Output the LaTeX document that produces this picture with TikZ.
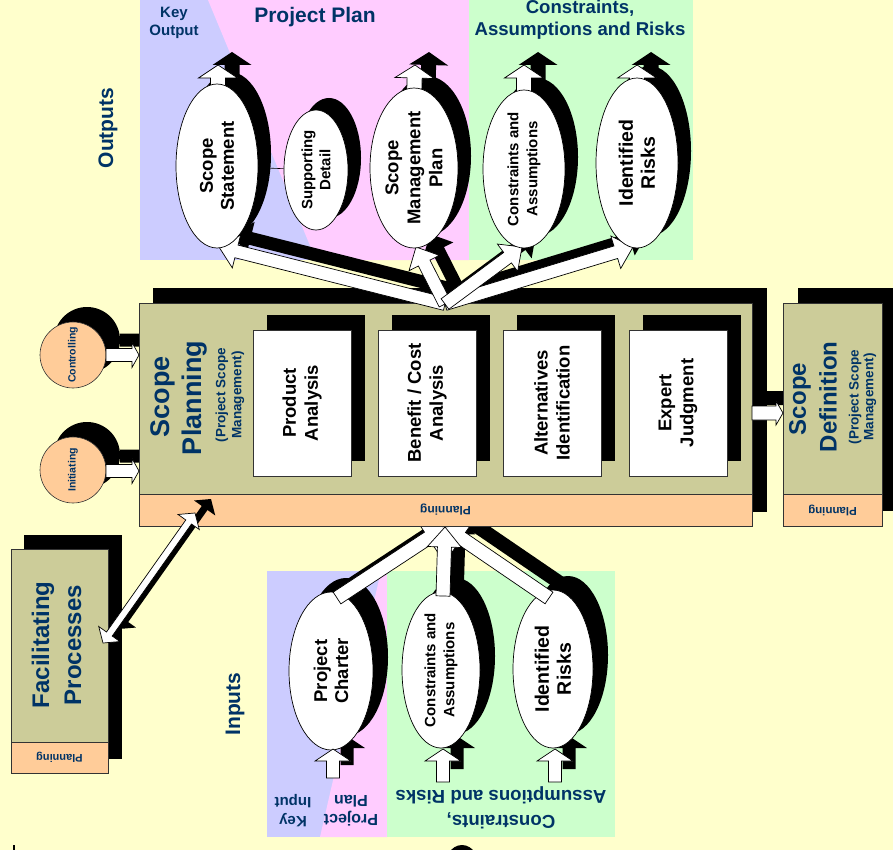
\documentclass[tikz,border=0pt]{standalone}
\usepackage{fontspec}
\setmainfont{Liberation Sans}
\usetikzlibrary{calc,shapes.geometric}
\definecolor{bgY}{HTML}{FFFFCC}
\definecolor{lav}{HTML}{CCCCFF}
\definecolor{pnk}{HTML}{FFCCFF}
\definecolor{grn}{HTML}{CCFFCC}
\definecolor{khaki}{HTML}{CCCC99}
\definecolor{peach}{HTML}{FFCC99}
\definecolor{navy}{HTML}{003366}
\definecolor{edge}{HTML}{333333}
\newcommand\myfs[2]{\fontsize{#1}{#2}\selectfont\bfseries}
% block arrow: style, tail, tip, half shaft, half head, head length
\newcommand\blockarr[6]{%
  \coordinate (bA) at (#2);
  \coordinate (bB) at (#3);
  \coordinate (bH) at ($(bB)!#6!(bA)$);
  \path[#1] ($(bA)!#4!90:(bB)$) -- ($(bH)!#4!90:(bB)$) -- ($(bH)!#5!90:(bB)$) -- (bB)
    -- ($(bH)!#5!-90:(bB)$) -- ($(bH)!#4!-90:(bB)$) -- ($(bA)!#4!-90:(bB)$) -- cycle;}
% double headed block arrow
\newcommand\dblockarr[6]{%
  \coordinate (bA) at (#2);
  \coordinate (bB) at (#3);
  \coordinate (bH) at ($(bA)!#6!(bB)$);
  \coordinate (bK) at ($(bB)!#6!(bA)$);
  \path[#1] (bA) -- ($(bH)!#5!90:(bB)$) -- ($(bH)!#4!90:(bB)$) -- ($(bK)!#4!-90:(bA)$)
    -- ($(bK)!#5!-90:(bA)$) -- (bB) -- ($(bK)!#5!90:(bA)$) -- ($(bK)!#4!90:(bA)$)
    -- ($(bH)!#4!-90:(bB)$) -- ($(bH)!#5!-90:(bB)$) -- cycle;}
\tikzset{
 shdw/.style={fill=black, draw=none},
 wht/.style={fill=white, draw=black, line width=0.7pt, line join=miter},
 ellw/.style={ellipse, draw=black, fill=white, line width=0.7pt, inner sep=0pt},
 ells/.style={ellipse, fill=black, draw=none, inner sep=0pt},
 boxk/.style={fill=khaki, draw=edge, line width=0.6pt, inner sep=0pt, outer sep=0pt, anchor=north west},
 boxp/.style={fill=peach, draw=edge, line width=0.6pt, inner sep=0pt, outer sep=0pt, anchor=north west},
 boxw/.style={fill=white, draw=edge, line width=0.6pt, inner sep=0pt, outer sep=0pt, anchor=north west, minimum width=98pt, minimum height=146pt},
 boxs/.style={fill=black, draw=none, inner sep=0pt, outer sep=0pt, anchor=north west, minimum width=98pt, minimum height=146pt},
 circp/.style={circle, fill=peach, draw=edge, line width=0.6pt, minimum size=66pt, inner sep=0pt},
 circs/.style={circle, fill=black, minimum size=66pt, inner sep=0pt},
 lbl/.style={text=navy, align=center, inner sep=0pt},
 txt/.style={text=black, align=center, inner sep=0pt},
}
\begin{document}
\begin{tikzpicture}[x=1pt,y=-1pt]
\useasboundingbox (0,0) rectangle (893,850);
\clip (0,0) rectangle (893,850);
\fill[bgY] (0,0) rectangle (893,850);
% ---------------- panels
\fill[lav] (140,0) rectangle (469,260);
\fill[pnk] (208,0) -- (469,0) -- (469,260) -- (316,260) -- cycle;
\fill[grn] (469,0) rectangle (693,260);
\fill[lav] (267,571) rectangle (387,837);
\fill[pnk] (381,571) -- (387,571) -- (387,837) -- (320,837) -- cycle;
\fill[grn] (387,571) rectangle (615,837);
% ---------------- panel labels
\node[lbl, font=\myfs{15}{18}] (keyout) at (174,23) {Key\\Output};
\node[lbl, font=\myfs{21}{25}] (pplan) at (315,17) {Project Plan};
\node[lbl, font=\myfs{18.6}{22}] (carT) at (580,20) {Constraints,\\Assumptions and Risks};
\node[lbl, font=\myfs{21}{25}, rotate=90] (outs) at (108,128) {Outputs};
\node[lbl, font=\myfs{21}{25}, rotate=90] (ins) at (235,704) {Inputs};
\node[lbl, font=\myfs{15}{19}, rotate=180] (keyin) at (293,811) {Key\\Input};
\node[lbl, font=\myfs{16}{19}, rotate=180] (pplanB) at (351,811) {Project\\Plan};
\node[lbl, font=\myfs{18.6}{25}, rotate=180] (carB) at (501,808) {Constraints,\\Assumptions and Risks};
% ---------------- coordinates
\coordinate (pcC) at (331,671);
\coordinate (bcaC) at (441,670);
\coordinate (birC) at (553,669);
\coordinate (hubB) at (445,527);
\coordinate (pcTail) at (337,598);
\coordinate (bcaTail) at (443,596);
\coordinate (birTail) at (549,598);
\coordinate (pcInA) at (333,778); \coordinate (pcInB) at (333,749);
\coordinate (bcaInA) at (443,782); \coordinate (bcaInB) at (443,749);
\coordinate (birInA) at (555,782); \coordinate (birInB) at (555,749);
\coordinate (ctrlC) at (73,355);
\coordinate (initC) at (73,470);
\coordinate (ctrlA) at (106,355); \coordinate (ctrlB) at (139,355);
\coordinate (initA) at (106,471); \coordinate (initB) at (139,471);
\coordinate (defA) at (752,413); \coordinate (defB) at (783,413);
\coordinate (facTip) at (103,643); \coordinate (spTip) at (195,513);
\coordinate (ssC) at (217,166);
\coordinate (sdC) at (316,170);
\coordinate (smpC) at (414,168);
\coordinate (tcaC) at (524,169);
\coordinate (tirC) at (637,163);
\coordinate (hubT) at (445,304);
\coordinate (ssTip) at (219,247);
\coordinate (smpTip) at (416,247);
\coordinate (tcaTip) at (522,247);
\coordinate (tirTip) at (633,247);
\coordinate (ssUpA) at (218,100); \coordinate (ssUpB) at (218,65);
\coordinate (smpUpA) at (414,100); \coordinate (smpUpB) at (415,65);
\coordinate (tcaUpA) at (524,100); \coordinate (tcaUpB) at (524,65);
\coordinate (tirUpA) at (637,100); \coordinate (tirUpB) at (637,65);
% ---------------- bottom inputs
\node[ells, minimum width=84pt, minimum height=158pt] at ($(pcC)+(15,-14)$) {};
\node[ells, minimum width=78pt, minimum height=156pt] at ($(bcaC)+(15,-14)$) {};
\node[ells, minimum width=80pt, minimum height=158pt] at ($(birC)+(15,-14)$) {};
\blockarr{shdw}{$(pcTail)+(14,-13)$}{$(hubB)+(14,-13)$}{7pt}{17pt}{20pt}
\blockarr{shdw}{$(birTail)+(14,-13)$}{$(hubB)+(14,-13)$}{7pt}{17pt}{20pt}
\blockarr{shdw}{$(bcaTail)+(14,-13)$}{$(hubB)+(14,-13)$}{7pt}{17pt}{20pt}
\blockarr{shdw}{$(pcInA)+(14,-13)$}{$(pcInB)+(14,-13)$}{6.5pt}{18pt}{12pt}
\blockarr{shdw}{$(bcaInA)+(14,-13)$}{$(bcaInB)+(14,-13)$}{6.5pt}{18pt}{12pt}
\blockarr{shdw}{$(birInA)+(14,-13)$}{$(birInB)+(14,-13)$}{6.5pt}{18pt}{12pt}
\node[ellw, minimum width=84pt, minimum height=158pt] (pc) at (pcC) {};
\node[ellw, minimum width=78pt, minimum height=156pt] (bca) at (bcaC) {};
\node[ellw, minimum width=80pt, minimum height=158pt] (bir) at (birC) {};
\blockarr{wht}{pcTail}{hubB}{7pt}{17pt}{20pt}
\blockarr{wht}{birTail}{hubB}{7pt}{17pt}{20pt}
\blockarr{wht}{bcaTail}{hubB}{7pt}{17pt}{20pt}
\blockarr{wht}{pcInA}{pcInB}{6.5pt}{18pt}{12pt}
\blockarr{wht}{bcaInA}{bcaInB}{6.5pt}{18pt}{12pt}
\blockarr{wht}{birInA}{birInB}{6.5pt}{18pt}{12pt}
\node[txt, rotate=90, font=\myfs{18.5}{21}] (pcT) at (pc) {Project\\Charter};
\node[txt, rotate=90, font=\myfs{15}{19}] (bcaT) at (bca) {Constraints and\\Assumptions};
\node[txt, rotate=90, font=\myfs{19.5}{22}] (birT) at (bir) {Identified\\Risks};
% ---------------- shadows of process layer
\node[circs] at ($(ctrlC)+(14,-15)$) {};
\node[circs] at ($(initC)+(14,-15)$) {};
\blockarr{shdw}{$(ctrlA)+(14,-15)$}{$(ctrlB)+(14,-15)$}{6.5pt}{12.5pt}{7pt}
\blockarr{shdw}{$(initA)+(14,-15)$}{$(initB)+(14,-15)$}{6.5pt}{12.5pt}{7pt}
\blockarr{shdw}{$(defA)+(14,-15)$}{$(defB)+(14,-15)$}{7pt}{12pt}{7pt}
\fill (153,288) rectangle (767,512);
\fill (798,288) rectangle (897,511);
\fill (24,535) rectangle (122,759);
% ---------------- main process box
\node[boxk, minimum width=613pt, minimum height=191pt] (sp) at (139,303) {};
\node[boxp, minimum width=613pt, minimum height=32pt] (spP) at (sp.south west) {};
\node[lbl, rotate=180, font=\myfs{12}{14}] (spPT) at (spP) {Planning};
\node[lbl, rotate=90, font=\myfs{27}{32}] (spT1) at (163,397) {Scope};
\node[lbl, rotate=90, font=\myfs{27}{32}] (spT2) at (195,398) {Planning};
\node[lbl, rotate=90, font=\myfs{13.5}{16}] (spT3) at (222,395) {(Project Scope};
\node[lbl, rotate=90, font=\myfs{13.5}{16}] (spT4) at (238,395) {Management)};
\node[boxs] at (267,315) {};
\node[boxs] at (392,315) {};
\node[boxs] at (517,315) {};
\node[boxs] at (643,315) {};
\node[boxw] (pa) at (253,330) {};
\node[boxw] (bc) at (378,330) {};
\node[boxw] (ai) at (503,330) {};
\node[boxw] (ej) at (629,330) {};
\node[txt, rotate=90, font=\myfs{18.5}{22}] (paT) at (pa) {Product\\Analysis};
\node[txt, rotate=90, font=\myfs{18.5}{22}] (bcT) at (bc) {Benefit / Cost\\Analysis};
\node[txt, rotate=90, font=\myfs{18.5}{22}] (aiT) at (ai) {Alternatives\\Identification};
\node[txt, rotate=90, font=\myfs{18.5}{22}] (ejT) at (ej) {Expert\\Judgment};
% scope definition
\node[boxk, minimum width=99pt, minimum height=191pt] (sdef) at (783,303) {};
\node[boxp, minimum width=99pt, minimum height=32pt] (sdefP) at (sdef.south west) {};
\node[lbl, rotate=180, font=\myfs{11.5}{14}] (sdefPT) at (sdefP) {Planning};
\node[lbl, rotate=90, font=\myfs{24}{28}] (sdT1) at (800,399) {Scope};
\node[lbl, rotate=90, font=\myfs{24}{28}] (sdT2) at (828,397) {Definition};
\node[lbl, rotate=90, font=\myfs{13.5}{16}] (sdT3) at (855,397) {(Project Scope};
\node[lbl, rotate=90, font=\myfs{13.5}{16}] (sdT4) at (870,397) {Management)};
% facilitating
\node[boxk, minimum width=97pt, minimum height=193pt] (fac) at (11,549) {};
\node[boxp, minimum width=97pt, minimum height=31pt] (facP) at (fac.south west) {};
\node[lbl, rotate=180, font=\myfs{11}{13}] (facPT) at (facP) {Planning};
\node[lbl, rotate=90, font=\myfs{24}{28}] (facT1) at (43,645) {Facilitating};
\node[lbl, rotate=90, font=\myfs{24}{28}] (facT2) at (73,645) {Processes};
% circles
\node[circp] (ctrl) at (ctrlC) {};
\node[circp] (init) at (initC) {};
\node[lbl, rotate=90, font=\myfs{10.5}{12}] (ctrlT) at (ctrl) {Controlling};
\node[lbl, rotate=90, font=\myfs{10.5}{12}] (initT) at (init) {Initiating};
\blockarr{wht}{ctrlA}{ctrlB}{6.5pt}{12.5pt}{7pt}
\blockarr{wht}{initA}{initB}{6.5pt}{12.5pt}{7pt}
\blockarr{wht}{defA}{defB}{7pt}{12pt}{7pt}
% facilitating double arrow
\dblockarr{shdw}{$(facTip)+(16,-14)$}{$(spTip)+(16,-14)$}{3.5pt}{13pt}{11pt}
\dblockarr{wht}{facTip}{spTip}{3.5pt}{13pt}{11pt}
% ---------------- top outputs
\node[ells, minimum width=82pt, minimum height=164pt] at ($(ssC)+(13,-12)$) {};
\node[ells, minimum width=64pt, minimum height=120pt] at ($(sdC)+(13,-12)$) {};
\node[ells, minimum width=88pt, minimum height=160pt] at ($(smpC)+(13,-12)$) {};
\node[ells, minimum width=82pt, minimum height=158pt] at ($(tcaC)+(13,-12)$) {};
\node[ells, minimum width=82pt, minimum height=170pt] at ($(tirC)+(13,-12)$) {};
\blockarr{shdw}{$(ssUpA)+(14,-13)$}{$(ssUpB)+(14,-13)$}{7.5pt}{19.5pt}{13pt}
\blockarr{shdw}{$(smpUpA)+(14,-13)$}{$(smpUpB)+(14,-13)$}{7.5pt}{19.5pt}{13pt}
\blockarr{shdw}{$(tcaUpA)+(14,-13)$}{$(tcaUpB)+(14,-13)$}{7.5pt}{19.5pt}{13pt}
\blockarr{shdw}{$(tirUpA)+(14,-13)$}{$(tirUpB)+(14,-13)$}{7.5pt}{19.5pt}{13pt}
\blockarr{shdw}{$(hubT)+(14,-13)$}{$(ssTip)+(14,-13)$}{6.5pt}{17pt}{18pt}
\blockarr{shdw}{$(hubT)+(14,-13)$}{$(tirTip)+(14,-13)$}{6.5pt}{17pt}{18pt}
\blockarr{shdw}{$(hubT)+(14,-13)$}{$(smpTip)+(14,-13)$}{6.5pt}{17pt}{18pt}
\blockarr{shdw}{$(hubT)+(14,-13)$}{$(tcaTip)+(14,-13)$}{6.5pt}{17pt}{18pt}
\blockarr{wht}{hubT}{ssTip}{6.5pt}{17pt}{18pt}
\blockarr{wht}{hubT}{tirTip}{6.5pt}{17pt}{18pt}
\blockarr{wht}{hubT}{smpTip}{6.5pt}{17pt}{18pt}
\blockarr{wht}{hubT}{tcaTip}{6.5pt}{17pt}{18pt}
\blockarr{wht}{ssUpA}{ssUpB}{7.5pt}{19.5pt}{13pt}
\blockarr{wht}{smpUpA}{smpUpB}{7.5pt}{19.5pt}{13pt}
\blockarr{wht}{tcaUpA}{tcaUpB}{7.5pt}{19.5pt}{13pt}
\blockarr{wht}{tirUpA}{tirUpB}{7.5pt}{19.5pt}{13pt}
\node[ellw, minimum width=82pt, minimum height=164pt] (ss) at (ssC) {};
\node[ellw, minimum width=64pt, minimum height=120pt] (sd) at (sdC) {};
\node[ellw, minimum width=88pt, minimum height=160pt] (smp) at (smpC) {};
\node[ellw, minimum width=82pt, minimum height=158pt] (tca) at (tcaC) {};
\node[ellw, minimum width=82pt, minimum height=170pt] (tir) at (tirC) {};
\draw[line width=0.6pt] (ss) -- (sd);
\node[txt, rotate=90, font=\myfs{18.5}{21}] (ssT) at (ss) {Scope\\Statement};
\node[txt, rotate=90, font=\myfs{15}{18}] (sdT) at (sd) {Supporting\\Detail};
\node[txt, rotate=90, font=\myfs{18.5}{22}] (smpT) at (smp) {Scope\\Management\\Plan};
\node[txt, rotate=90, font=\myfs{15}{19}] (tcaT) at (tca) {Constraints and\\Assumptions};
\node[txt, rotate=90, font=\myfs{19.5}{22}] (tirT) at (tir) {Identified\\Risks};
% ---------------- cut-off marks at the lower edge
\fill (462,872) ellipse [x radius=19pt, y radius=27pt];
\fill (13,845) rectangle (15,850);
\end{tikzpicture}
\end{document}
